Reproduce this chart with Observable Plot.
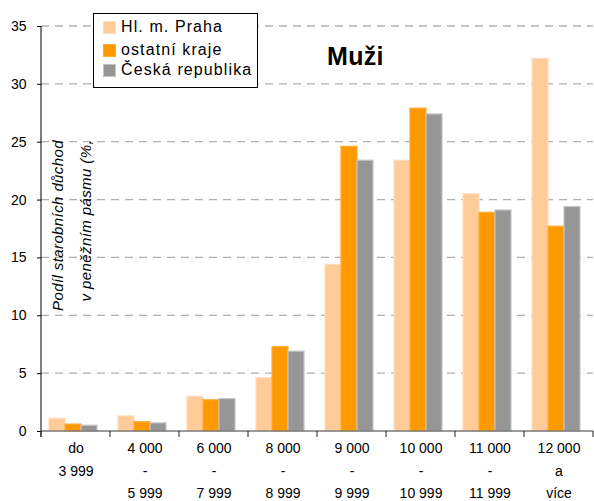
<!DOCTYPE html>
<html><head><meta charset="utf-8">
<script src="https://cdn.jsdelivr.net/npm/d3@7"></script>
<script src="https://cdn.jsdelivr.net/npm/@observablehq/plot@0.6"></script>
<style>
body{margin:0;background:#fff;font-family:"Liberation Sans",Arial,sans-serif;}
#wrap{position:relative;width:594px;height:501px;overflow:hidden;background:#fff}
#legend{position:absolute;left:93px;top:13px;width:165px;height:75px;border:1px solid #000;background:#fff;box-sizing:border-box}
.item{position:absolute;left:9px;height:20px;display:flex;align-items:center;font-size:16px;letter-spacing:1.1px;color:#000;white-space:nowrap}
.sw{width:13px;height:13px;margin-right:5px;box-sizing:border-box}
#title{position:absolute;left:327px;top:44px;font-size:25px;font-weight:bold;line-height:25px;color:#000;letter-spacing:0.3px}
</style></head><body><div id="wrap"></div>
<script>
const categories = ["do 3 999","4 000 - 5 999","6 000 - 7 999","8 000 - 8 999","9 000 - 9 999","10 000 - 10 999","11 000 - 11 999","12 000 a více"];
const categoryLabels = ["do\n3 999","4 000\n-\n5 999","6 000\n-\n7 999","8 000\n-\n8 999","9 000\n-\n9 999","10 000\n-\n10 999","11 000\n-\n11 999","12 000\na\nvíce"];
const series = ["Hl. m. Praha","ostatní kraje","Česká republika"];
const praha   = [1.1, 1.3, 3.0, 4.6, 14.4, 23.4, 20.5, 32.2];
const ostatni = [0.6, 0.8, 2.7, 7.3, 24.6, 27.9, 18.9, 17.7];
const cr      = [0.5, 0.7, 2.8, 6.9, 23.4, 27.4, 19.1, 19.4];
const colors  = ["#FFCC99","#FF9900","#969696"];
const strokes = ["#FFDDBB","#FFAA33","#C4C4C4"];
const yTicks  = [0,5,10,15,20,25,30,35];
const titleText = "Muži";
const yLabelLines = ["Podíl starobních důchod","v peněžním pásmu (%,"];

const values = [praha, ostatni, cr];
const data = [];
categories.forEach((c,i)=>series.forEach((s,j)=>data.push({cat:c, series:s, value:values[j][i]})));
const labelOf = new Map(categories.map((c,i)=>[c, categoryLabels[i]]));

const chart = Plot.plot({
  width:594, height:501,
  marginTop:26, marginBottom:70, marginLeft:40, marginRight:0,
  style:{fontFamily:"'Liberation Sans', Arial, sans-serif", fontSize:"14px", background:"transparent", color:"#000"},
  fx:{domain:categories, padding:0, label:null},
  x:{domain:series, axis:null, paddingInner:0, paddingOuter:0.577, align:0.4},
  y:{domain:[0,35]},
  color:{domain:series, range:colors},
  marks:[
    Plot.barY(data, {fx:"cat", x:"series", y:"value", fill:"series",
      stroke:d=>strokes[series.indexOf(d.series)], strokeWidth:1.2, inset:0}),
    Plot.axisY(yTicks, {tickSize:4, tickPadding:11, label:null, fontSize:14}),
    Plot.axisFx({anchor:"bottom", tickSize:0, tickPadding:5, label:null, fontSize:14, lineHeight:1.63,
      tickFormat:d=>labelOf.get(d)})
  ]
});

const svg = d3.select(chart);
const fx = chart.scale("fx");
const y = chart.scale("y");
const y0 = y.apply(0), yTop = y.apply(35);
const xLeft = fx.apply(categories[0]);
const xRight = fx.apply(categories[categories.length-1]) + fx.bandwidth;
// gridlines behind bars
const grid = svg.insert("g", ":first-child");
yTicks.slice(1).forEach(t=>grid.append("line").attr("x1",xLeft).attr("x2",xRight)
  .attr("y1",y.apply(t)).attr("y2",y.apply(t)).attr("stroke","#b0b0b0").attr("stroke-width",1.3).attr("stroke-dasharray","8,6"));
// baseline
svg.append("line").attr("x1",xLeft).attr("x2",xRight).attr("y1",y0).attr("y2",y0).attr("stroke","#7a7a7a").attr("stroke-width",1.6);
// y axis line
svg.append("line").attr("x1",xLeft).attr("x2",xLeft).attr("y1",yTop).attr("y2",y0+6).attr("stroke","#000").attr("stroke-width",1);
// x tick marks at category boundaries
const bounds = categories.map(c=>fx.apply(c)).concat([xRight]);
bounds.forEach(b=>svg.append("line").attr("x1",b).attr("x2",b).attr("y1",y0).attr("y2",y0+6).attr("stroke","#222").attr("stroke-width",1));
// rotated y label
const yl = svg.append("g").attr("font-style","italic").attr("font-size",15).attr("letter-spacing","0.4px").attr("fill","#000").attr("text-anchor","end");
[58,86].forEach((cx,k)=>yl.append("text").attr("transform",`translate(${cx},140) rotate(-90)`).attr("dy","0.35em").text(yLabelLines[k]));

const wrap = document.getElementById("wrap");
wrap.appendChild(chart);
chart.style.position="absolute"; chart.style.left="0"; chart.style.top="0";

const legend = document.createElement("div"); legend.id="legend";
const rowTops = [3, 26, 46];
series.forEach((s,j)=>{
  const it=document.createElement("div"); it.className="item"; it.style.top=rowTops[j]+"px";
  const sw=document.createElement("div"); sw.className="sw"; sw.style.background=colors[j]; sw.style.border="1px solid "+strokes[j];
  const t=document.createElement("span"); t.textContent=s;
  it.appendChild(sw); it.appendChild(t); legend.appendChild(it);
});
wrap.appendChild(legend);
const title=document.createElement("div"); title.id="title"; title.textContent=titleText; wrap.appendChild(title);
</script></body></html>
